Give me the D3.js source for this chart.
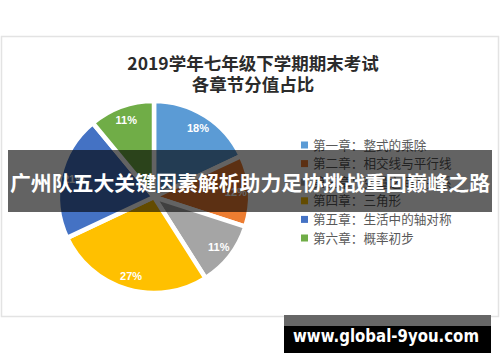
<!DOCTYPE html>
<html><head><meta charset="utf-8">
<script src="https://cdn.jsdelivr.net/npm/d3@7/dist/d3.min.js"></script>
<style>body{margin:0;background:#fff}svg{display:block}</style>
</head><body>
<svg id="c" width="500" height="362"></svg>
<script>
const titleLines = ["2019学年七年级下学期期末考试", "各章节分值占比"];
const categories = ["第一章：整式的乘除", "第二章：相交线与平行线", "第三章：变量之间的关系", "第四章：三角形", "第五章：生活中的轴对称", "第六章：概率初步"];
const values = [18, 12, 11, 27, 21, 11];
const colors = ["#5B9BD5", "#ED7D31", "#A5A5A5", "#FFC000", "#4472C4", "#70AD47"];
const bannerText = "广州队五大关键因素解析助力足协挑战重回巅峰之路";
const watermark = "www.global-9you.com";

const svg = d3.select("#c");
const cjk = "'Noto Sans CJK SC','Noto Sans',sans-serif";

// chart card
svg.append("rect").attr("x", 1.5).attr("y", 36.5).attr("width", 497).attr("height", 280)
  .attr("fill", "#fff").attr("stroke", "#e3e3e3").attr("stroke-width", 1.5);

// title
const tt = svg.append("text").attr("text-anchor", "middle").attr("font-family", cjk)
  .attr("font-weight", "bold").attr("font-size", 17.5).attr("fill", "#2b2b2b");
titleLines.forEach((t, i) => tt.append("tspan").attr("x", 253).attr("y", 70 + i * 21).text(t));

// pie
const cx = 154, cy = 197, R = 96;
const pie = d3.pie().sort(null).value(d => d)(values);
const arc = d3.arc().innerRadius(0).outerRadius(R);
const labelArc = d3.arc().innerRadius(82).outerRadius(82);
const g = svg.append("g").attr("transform", `translate(${cx},${cy})`);
g.selectAll("path").data(pie).join("path")
  .attr("d", arc).attr("fill", (d, i) => colors[i])
  .attr("stroke", "#fff").attr("stroke-width", 4.5).attr("stroke-linejoin", "round");
g.selectAll("text").data(pie).join("text")
  .attr("transform", d => `translate(${labelArc.centroid(d)})`)
  .attr("text-anchor", "middle").attr("dy", "0.35em")
  .attr("font-family", "'Liberation Sans Narrow','Liberation Sans',Arial,sans-serif")
  .attr("font-weight", "bold").attr("font-size", 11).attr("fill", "#fff")
  .text(d => d.data + "%");

// legend
const y = d3.scalePoint().domain(categories).range([145, 238]);
const lg = svg.append("g");
categories.forEach((c, i) => {
  lg.append("rect").attr("x", 301).attr("y", y(c) - 3.5).attr("width", 7).attr("height", 7).attr("fill", colors[i]);
  lg.append("text").attr("x", 313).attr("y", y(c)).attr("dy", "0.36em")
    .attr("font-family", cjk).attr("font-size", 12.6).attr("fill", "#595959").text(c);
});

// banner overlay
svg.append("rect").attr("x", 8).attr("y", 150).attr("width", 484).attr("height", 62)
  .attr("fill", "#000").attr("fill-opacity", 0.61);
svg.append("text").attr("x", 250).attr("y", 184).attr("dy", "0.36em").attr("text-anchor", "middle")
  .attr("font-family", cjk).attr("font-weight", "bold").attr("font-size", 20.8)
  .attr("fill", "#fff").attr("textLength", 480).attr("lengthAdjust", "spacingAndGlyphs").text(bannerText);

// watermark
svg.append("rect").attr("x", 284).attr("y", 315).attr("width", 207).attr("height", 11).attr("fill", "#666");
svg.append("rect").attr("x", 284).attr("y", 326).attr("width", 207).attr("height", 27).attr("fill", "#000");
svg.append("text").attr("x", 386).attr("y", 342).attr("text-anchor", "middle")
  .attr("font-family", "'DejaVu Sans','Open Sans',sans-serif").attr("font-weight", "bold").attr("font-size", 17)
  .attr("fill", "#fff").attr("textLength", 186).attr("lengthAdjust", "spacingAndGlyphs").text(watermark);
</script>
</body></html>
